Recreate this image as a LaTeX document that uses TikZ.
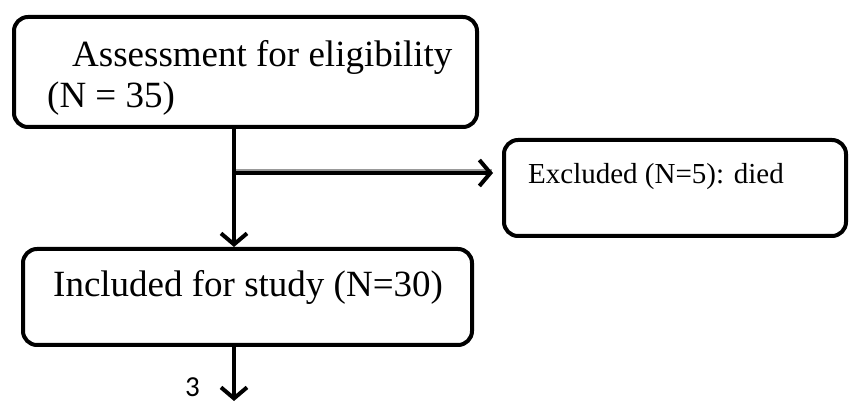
\documentclass[tikz,border=0pt]{standalone}
\usepackage{fontspec}
\setmainfont{Liberation Serif}
\newfontfamily\calfont{Carlito}
\usetikzlibrary{arrows.meta}
\begin{document}
\begin{tikzpicture}[x=1pt,y=-1pt,
  box/.style={draw, line width=4pt, rounded corners=14pt, inner sep=0pt},
  arr/.style={line width=4pt, -{Straight Barb[length=11pt,width=26pt,line width=4pt]}},
  shadowline/.style={line width=3pt, black!40},
  txt/.style={anchor=base west, inner sep=0pt}]
\useasboundingbox (0,0) rectangle (849,403);
\node[box, minimum width=463pt, minimum height=110pt] (b1) at (245.5,72) {};
\node[box, minimum width=342pt, minimum height=96pt] (b2) at (675,188) {};
\node[box, minimum width=449pt, minimum height=96pt] (b3) at (247.5,297) {};
\node[txt, font=\fontsize{37}{44}\selectfont] (t1) at (72,67) {Assessment for eligibility};
\node[txt, font=\fontsize{37}{44}\selectfont] (t2) at (47,108) {(N = 35)};
\node[txt, font=\fontsize{29}{34}\selectfont] (t3) at (528,184) {Excluded (N=5): died};
\node[txt, font=\fontsize{37}{44}\selectfont] (t4) at (53,297) {Included for study (N=30)};
\node[txt, font=\calfont\fontsize{29}{34}\selectfont] (t5) at (185,396) {3};
\coordinate (vx) at (234,0);
\coordinate (hy) at (0,173);
\coordinate (bend) at (234,401);
\draw[shadowline] ([yshift=2.5pt]vx |- hy) -- ([yshift=2.5pt,xshift=-10pt]b2.west |- hy);
\draw[arr] (vx |- b1.south) -- (vx |- b3.north);
\draw[arr, shorten >=9pt] (vx |- hy) -- (b2.west |- hy);
\draw[arr] (vx |- b3.south) -- (bend);
\end{tikzpicture}
\end{document}
